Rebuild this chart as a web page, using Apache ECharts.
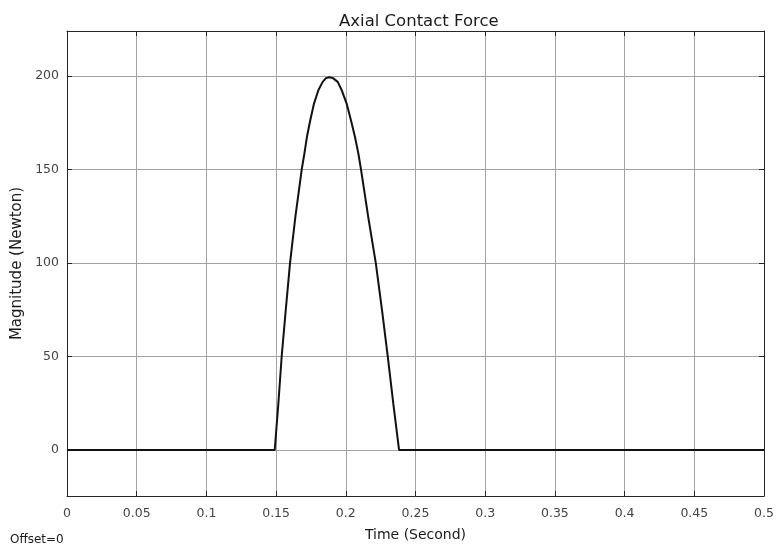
<!DOCTYPE html>
<html>
<head>
<meta charset="utf-8">
<script src="https://cdn.jsdelivr.net/npm/echarts@6/dist/echarts.min.js"></script>
<style>
  html, body { margin: 0; padding: 0; background: #ffffff; }
  #chart { width: 777px; height: 550px; }
</style>
</head>
<body>
<div id="chart"></div>
<script>
// Sampled contact force pulse (time in seconds, force in newtons)
const timeSec = [0, 0.149, 0.1516, 0.154, 0.1569, 0.16, 0.1638, 0.1684, 0.1703, 0.1721,
  0.1745, 0.1772, 0.1803, 0.1834, 0.1858, 0.1882, 0.1908, 0.1942, 0.1971, 0.2006,
  0.2037, 0.2066, 0.209, 0.2109, 0.2161, 0.2215, 0.226, 0.2301, 0.2341, 0.2382, 0.5];
const forceN = [0, 0, 24.6, 50, 74.6, 100, 124.5, 150, 158.5, 167.3,
  176.3, 185.2, 192.3, 196.8, 198.8, 199.3, 198.8, 196.8, 192.3, 185.2,
  176.3, 167.3, 158.5, 150, 124.5, 100, 74.6, 50, 24.6, 0, 0];

// Axis settings
const xRange = [0, 0.5];
const xStep = 0.05;
const yRange = [-24.6, 224];
const yTickStep = 50;

const points = timeSec.map((t, i) => [t, forceN[i]]);

const font = 'DejaVu Sans, Verdana, sans-serif';
const frameColor = '#262626';
const gridColor = '#a3a3a3';
const tickTextColor = '#444444';
const textColor = '#1a1a1a';

const chart = echarts.init(document.getElementById('chart'), null, { renderer: 'canvas' });

const yLabel = v => (Math.abs(v / yTickStep - Math.round(v / yTickStep)) < 1e-6 ? String(Math.round(v)) : '');

// Each side of the plot box carries its own axis line with inward ticks
const boxAxis = () => ({
  axisLine: { show: true, onZero: false, lineStyle: { color: frameColor, width: 1 } },
  axisTick: { show: true, inside: true, length: 5, lineStyle: { color: frameColor, width: 1 } }
});

chart.setOption({
  animation: false,
  backgroundColor: '#ffffff',
  title: {
    text: 'Axial Contact Force',
    left: 334,
    top: 8,
    textStyle: { fontFamily: font, fontSize: 16.5, fontWeight: 'normal', color: textColor }
  },
  grid: {
    left: 67, right: 13, top: 31, bottom: 54,
    show: false
  },
  graphic: [{
    type: 'text',
    left: 10,
    top: 534,
    style: { text: 'Offset=0', fontFamily: font, fontSize: 12, fill: textColor }
  }],
  xAxis: [Object.assign({
    type: 'value',
    min: xRange[0], max: xRange[1], interval: xStep,
    position: 'bottom',
    name: 'Time (Second)',
    nameLocation: 'middle',
    nameGap: 32,
    nameTextStyle: { fontFamily: font, fontSize: 14, color: textColor },
    axisLabel: { fontFamily: font, fontSize: 12.5, color: tickTextColor, margin: 11,
      formatter: v => String(+v.toFixed(2)) },
    splitLine: { show: true, lineStyle: { color: gridColor, width: 1 } }
  }, boxAxis()), Object.assign({
    type: 'value',
    min: xRange[0], max: xRange[1], interval: xStep,
    position: 'top',
    axisLabel: { show: false },
    splitLine: { show: false }
  }, boxAxis())],
  yAxis: [Object.assign({
    type: 'value',
    min: yRange[0], max: yRange[1], splitNumber: 5,
    position: 'left',
    name: 'Magnitude (Newton)',
    nameLocation: 'middle',
    nameGap: 40,
    nameTextStyle: { fontFamily: font, fontSize: 15, color: textColor },
    axisLabel: { fontFamily: font, fontSize: 12.5, color: tickTextColor, margin: 8,
      showMinLabel: false, showMaxLabel: false, formatter: yLabel },
    splitLine: { show: true, lineStyle: { color: gridColor, width: 1 } }
  }, boxAxis()), Object.assign({
    type: 'value',
    min: yRange[0], max: yRange[1], splitNumber: 5,
    position: 'right',
    axisLabel: { show: false },
    splitLine: { show: false }
  }, boxAxis())],
  series: [{
    type: 'line',
    xAxisIndex: 0,
    yAxisIndex: 0,
    data: points,
    showSymbol: false,
    symbol: 'none',
    lineStyle: { color: '#111111', width: 2 }
  }]
});
</script>
</body>
</html>
